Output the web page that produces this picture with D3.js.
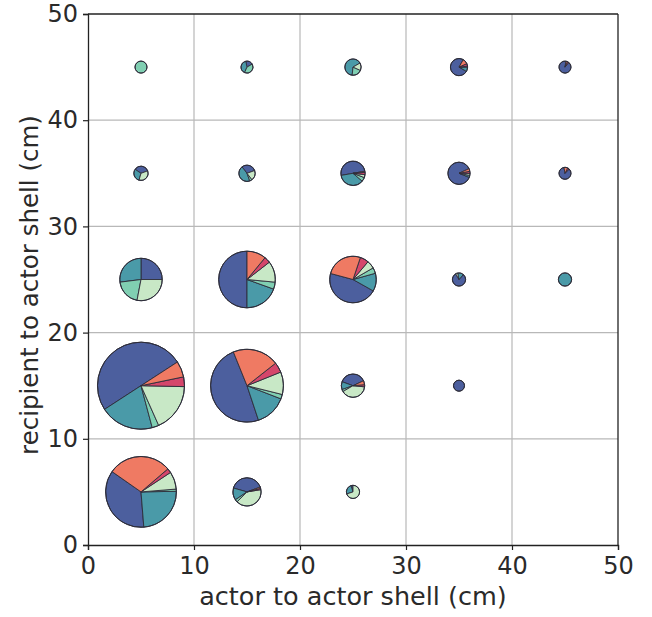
<!DOCTYPE html>
<html>
<head>
<meta charset="utf-8">
<script src="https://cdn.jsdelivr.net/npm/d3@7"></script>
<style>
  body { margin: 0; background: #fff; }
  text { font-family: "DejaVu Sans", sans-serif; fill: #2a2a2a; }
</style>
</head>
<body>
<div id="chart"></div>
<script>
// pie centres (cm)
const xs = [5, 15, 25, 5, 15, 25, 35, 5, 15, 25, 35, 45, 5, 15, 25, 35, 45, 5, 15, 25, 35, 45];
const ys = [5, 5, 5, 15, 15, 15, 15, 25, 25, 25, 25, 25, 35, 35, 35, 35, 35, 45, 45, 45, 45, 45];
// number of events per pie (sets pie area)
const totals = [662, 106, 23, 1000, 701, 72, 16, 238, 424, 286, 23, 23, 27, 35, 78, 65, 19, 19, 19, 35, 39, 19];
// angle (deg, ccw from east) where the first slice starts
const starts = [145, 20, 90, 33, 112, 25, 90, 0, 90, 165, 120, 90, 20, 20, 10, 25, 100, 90, 30, 30, 60, 80];

// share of each group per pie (%)
const groupA = [36, 40, 5, 50, 49, 37.5, 100, 25, 50, 46, 80, 0, 35, 30, 50, 87, 85, 0, 20, 0, 75, 92];
const groupB = [24, 14, 25, 20, 14, 11, 0, 27, 19.5, 12.5, 15, 100, 30, 45, 36, 3, 0, 0, 40, 65, 8, 0];
const groupC = [1, 3, 0, 2.5, 2, 3, 0, 20, 4, 4, 0, 0, 0, 5, 5.5, 0, 0, 100, 40, 20, 0, 0];
const groupD = [8, 40, 70, 18, 10, 40, 0, 28, 12, 5.5, 5, 0, 35, 20, 4, 3, 0, 0, 0, 15, 2, 0];
const groupE = [2, 1.5, 0, 3.6, 4.5, 3, 0, 0, 3.5, 6, 0, 0, 0, 0, 3, 3, 5, 0, 0, 0, 5, 4];
const groupF = [29, 1.5, 0, 5.9, 20.5, 5.5, 0, 0, 11, 26, 0, 0, 0, 0, 1.5, 4, 10, 0, 0, 0, 10, 4];

const groups = [groupA, groupB, groupC, groupD, groupE, groupF];
const colors = ['#4c5f9e', '#4a9aa8', '#80cfb2', '#c8e8c6', '#d5466b', '#ef7a63'];

const xTicks = [0, 10, 20, 30, 40, 50];
const yTicks = [0, 10, 20, 30, 40, 50];

const width = 652, height = 617;
const margin = { top: 14, right: 34, bottom: 72, left: 88 };

const svg = d3.select('#chart')
  .append('svg')
  .attr('width', width)
  .attr('height', height)
  .style('background', '#fff');

const x = d3.scaleLinear().domain([0, 50]).range([margin.left, width - margin.right]);
const y = d3.scaleLinear().domain([0, 50]).range([height - margin.bottom, margin.top]);
const r = d3.scaleSqrt().domain([0, d3.max(totals)]).range([0, 43.5]);

// grid
const grid = svg.append('g');
grid.selectAll('line.gx')
  .data(xTicks.slice(1, -1))
  .enter().append('line')
  .attr('x1', d => x(d)).attr('x2', d => x(d))
  .attr('y1', y(0)).attr('y2', y(50))
  .attr('stroke', '#b8b8b8').attr('stroke-width', 1.2);
grid.selectAll('line.gy')
  .data(yTicks.slice(1, -1))
  .enter().append('line')
  .attr('x1', x(0)).attr('x2', x(50))
  .attr('y1', d => y(d)).attr('y2', d => y(d))
  .attr('stroke', '#b8b8b8').attr('stroke-width', 1.2);

// pies
const arc = d3.arc().innerRadius(0);
const pies = svg.append('g');

xs.forEach((cx, i) => {
  const a0 = Math.PI / 2 - starts[i] * Math.PI / 180;
  const pie = d3.pie().sort(null).value(d => d.v)
    .startAngle(a0).endAngle(a0 - 2 * Math.PI);
  const rows = groups.map((g, k) => ({ v: g[i], k })).filter(d => d.v > 0);
  const rad = r(totals[i]);
  const g = pies.append('g')
    .attr('transform', `translate(${x(cx)},${y(ys[i])})`);
  g.selectAll('path')
    .data(pie(rows))
    .enter().append('path')
    .attr('d', d => arc.outerRadius(rad)(d))
    .attr('fill', d => colors[d.data.k])
    .attr('stroke', '#2d2d3a')
    .attr('stroke-width', 0.9)
    .attr('stroke-linejoin', 'round');
  g.append('circle')
    .attr('r', rad)
    .attr('fill', 'none')
    .attr('stroke', '#2d2d3a')
    .attr('stroke-width', 1);
});

// axes
const xAxis = svg.append('g')
  .attr('transform', `translate(0,${y(0)})`)
  .call(d3.axisBottom(x).tickValues(xTicks).tickSize(5).tickPadding(7));
const yAxis = svg.append('g')
  .attr('transform', `translate(${x(0)},0)`)
  .call(d3.axisLeft(y).tickValues(yTicks).tickSize(5).tickPadding(5));

[xAxis, yAxis].forEach(a => {
  a.select('.domain').attr('stroke', '#222').attr('stroke-width', 1.3);
  a.selectAll('.tick line').attr('stroke', '#222').attr('stroke-width', 1.2);
  a.selectAll('.tick text').style('font-size', '24px').attr('fill', '#2a2a2a');
});

// frame top/right
svg.append('line')
  .attr('x1', x(0)).attr('x2', x(50)).attr('y1', y(50)).attr('y2', y(50))
  .attr('stroke', '#222').attr('stroke-width', 1.3);
svg.append('line')
  .attr('x1', x(50)).attr('x2', x(50)).attr('y1', y(0)).attr('y2', y(50))
  .attr('stroke', '#222').attr('stroke-width', 1.3);

svg.append('text')
  .attr('x', 353)
  .attr('y', 605)
  .attr('text-anchor', 'middle')
  .style('font-size', '25.5px')
  .text('actor to actor shell (cm)');

svg.append('text')
  .attr('transform', `translate(38,285) rotate(-90)`)
  .attr('text-anchor', 'middle')
  .style('font-size', '24.5px')
  .text('recipient to actor shell (cm)');
</script>
</body>
</html>
